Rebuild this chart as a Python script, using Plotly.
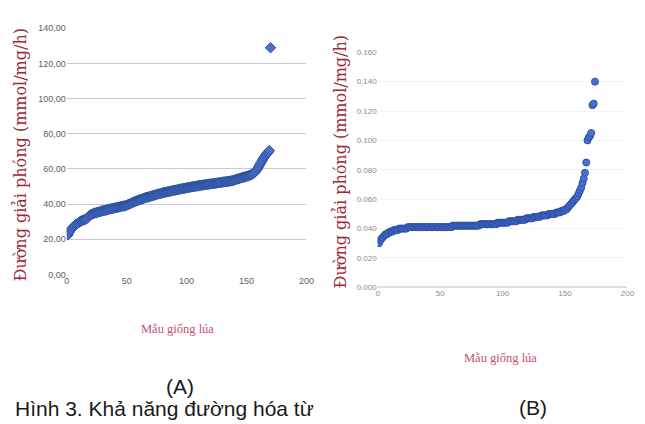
import plotly.graph_objects as go

# ---------------- data ----------------
# Chart A: released sugar (mmol/mg/h) for each rice sample, sorted ascending
sample_a = list(range(1, 171))
sugar_a = [
    22.5, 24.0, 25.2, 26.0, 26.8, 27.5, 28.1, 28.6, 29.0, 29.5,
    30.0, 30.4, 30.7, 31.0, 31.2, 31.5, 32.0, 32.8, 33.5, 34.0,
    34.3, 34.6, 34.8, 35.0, 35.2, 35.4, 35.6, 35.8, 36.0, 36.2,
    36.3, 36.5, 36.7, 36.9, 37.0, 37.2, 37.4, 37.5, 37.7, 37.8,
    38.0, 38.1, 38.3, 38.4, 38.6, 38.7, 38.9, 39.0, 39.2, 39.4,
    39.7, 40.0, 40.3, 40.6, 40.9, 41.2, 41.5, 41.8, 42.0, 42.3,
    42.5, 42.8, 43.0, 43.2, 43.5, 43.7, 43.9, 44.1, 44.3, 44.5,
    44.7, 44.9, 45.1, 45.3, 45.5, 45.7, 45.9, 46.0, 46.2, 46.4,
    46.6, 46.7, 46.9, 47.0, 47.2, 47.3, 47.5, 47.6, 47.8, 47.9,
    48.0, 48.2, 48.3, 48.5, 48.6, 48.7, 48.9, 49.0, 49.1, 49.3,
    49.4, 49.5, 49.6, 49.8, 49.9, 50.0, 50.1, 50.2, 50.4, 50.5,
    50.6, 50.7, 50.8, 50.9, 51.0, 51.1, 51.2, 51.3, 51.4, 51.5,
    51.6, 51.7, 51.8, 51.9, 52.0, 52.1, 52.2, 52.3, 52.4, 52.5,
    52.6, 52.7, 52.8, 52.9, 53.0, 53.1, 53.2, 53.4, 53.5, 53.7,
    54.0, 54.2, 54.4, 54.6, 54.8, 55.0, 55.2, 55.4, 55.6, 55.8,
    56.0, 56.2, 56.5, 56.8, 57.2, 57.6, 58.2, 59.0, 60.0, 61.2,
    62.4, 63.6, 64.8, 66.0, 67.0, 68.0, 68.8, 69.5, 70.5, 129.0,
]

# Chart B: released sugar (mmol/mg/h), sorted ascending
sample_b = list(range(1, 175))
sugar_b = [
    0.030, 0.032, 0.033, 0.034, 0.035, 0.036, 0.036, 0.037, 0.037, 0.038,
    0.038, 0.038, 0.039, 0.039, 0.039, 0.039, 0.040, 0.040, 0.040, 0.040,
    0.040, 0.040, 0.040, 0.041, 0.041, 0.041, 0.041, 0.041, 0.041, 0.041,
    0.041, 0.041, 0.041, 0.041, 0.041, 0.041, 0.041, 0.041, 0.041, 0.041,
    0.041, 0.041, 0.041, 0.041, 0.041, 0.041, 0.041, 0.041, 0.041, 0.041,
    0.041, 0.041, 0.041, 0.041, 0.041, 0.041, 0.041, 0.041, 0.041, 0.042,
    0.042, 0.042, 0.042, 0.042, 0.042, 0.042, 0.042, 0.042, 0.042, 0.042,
    0.042, 0.042, 0.042, 0.042, 0.042, 0.042, 0.042, 0.042, 0.042, 0.042,
    0.042, 0.043, 0.043, 0.043, 0.043, 0.043, 0.043, 0.043, 0.043, 0.043,
    0.043, 0.043, 0.043, 0.043, 0.043, 0.044, 0.044, 0.044, 0.044, 0.044,
    0.044, 0.044, 0.044, 0.044, 0.045, 0.045, 0.045, 0.045, 0.045, 0.045,
    0.045, 0.046, 0.046, 0.046, 0.046, 0.046, 0.046, 0.046, 0.047, 0.047,
    0.047, 0.047, 0.047, 0.047, 0.048, 0.048, 0.048, 0.048, 0.048, 0.048,
    0.049, 0.049, 0.049, 0.049, 0.049, 0.049, 0.050, 0.050, 0.050, 0.050,
    0.050, 0.050, 0.051, 0.051, 0.051, 0.051, 0.052, 0.052, 0.052, 0.053,
    0.053, 0.054, 0.055, 0.056, 0.057, 0.058, 0.059, 0.060, 0.061, 0.062,
    0.064, 0.066, 0.068, 0.071, 0.074, 0.078, 0.085, 0.100, 0.102, 0.103,
    0.105, 0.124, 0.125, 0.140,
]

x_ticks = [0, 50, 100, 150, 200]
x_ticktext = ["0", "50", "100", "150", "200"]
ya_ticks = [0, 20, 40, 60, 80, 100, 120, 140]
ya_ticktext = ["0,00", "20,00", "40,00", "60,00", "80,00", "100,00", "120,00", "140,00"]
yb_ticks = [0, 0.02, 0.04, 0.06, 0.08, 0.10, 0.12, 0.14, 0.16]
yb_ticktext = ["0.000", "0.020", "0.040", "0.060", "0.080", "0.100", "0.120", "0.140", "0.160"]

y_title = "Đường giải phóng (mmol/mg/h)"
x_title = "Mẫu giống lúa"
caption = "Hình 3. Khả năng đường hóa từ"

# ---------------- figure ----------------
W, H = 645, 424
# the captured page shows the figure slightly shrunk and offset; compensate
SCALE, OFF_X, OFF_Y = 0.98, 12.4, 12.6

def px_x(p):
    return ((p - OFF_X) / SCALE) / W

def px_y(p):
    return 1 - ((p - OFF_Y) / SCALE) / H

fig = go.Figure()

fig.add_trace(go.Scatter(
    x=sample_a, y=sugar_a, mode="markers", xaxis="x", yaxis="y",
    marker=dict(symbol="diamond", size=8, color="#4a72c8",
                line=dict(color="#2d4f9e", width=1)),
    showlegend=False, hoverinfo="x+y",
))
fig.add_trace(go.Scatter(
    x=sample_b, y=sugar_b, mode="markers", xaxis="x2", yaxis="y2",
    marker=dict(symbol="circle", size=7, color="#4a70d2",
                line=dict(color="#2d50a8", width=1)),
    showlegend=False, hoverinfo="x+y",
))

tick_font_a = dict(family="Liberation Sans Narrow, Liberation Sans, Arial", size=9, color="#606060")
tick_font_b = dict(family="Liberation Sans Narrow, Liberation Sans, Arial", size=8, color="#8a8a8a")

fig.update_layout(
    width=W, height=H,
    margin=dict(l=0, r=0, t=0, b=0),
    paper_bgcolor="white", plot_bgcolor="white",
    xaxis=dict(domain=[px_x(68), px_x(307)], range=[0, 200], tickvals=x_ticks, ticktext=x_ticktext,
               showgrid=False, zeroline=False, showline=False, ticks="", tickfont=tick_font_a,
               anchor="y"),
    yaxis=dict(domain=[px_y(275), px_y(28)], range=[0, 140], tickvals=ya_ticks, ticktext=ya_ticktext,
               showgrid=True, gridcolor="#c9c9d4", gridwidth=1, zeroline=False, showline=False,
               ticks="", tickfont=tick_font_a, anchor="x"),
    xaxis2=dict(domain=[px_x(378), px_x(627)], range=[0, 200], tickvals=x_ticks, ticktext=x_ticktext,
                showgrid=False, zeroline=False, showline=False, ticks="", tickfont=tick_font_b,
                anchor="y2"),
    yaxis2=dict(domain=[px_y(288), px_y(52)], range=[0, 0.16], tickvals=yb_ticks, ticktext=yb_ticktext,
                showgrid=True, gridcolor="#f4f4f6", gridwidth=1, zeroline=True, zerolinecolor="#dedee6",
                showline=False, ticks="", tickfont=tick_font_b, anchor="x2"),
)

serif_wide = "DejaVu Serif, Liberation Serif, serif"
serif = "Liberation Serif, Times New Roman, serif"
sans = "Liberation Sans, Arial, sans-serif"
annotations = [
    dict(text=y_title, x=px_x(22), y=px_y(155), textangle=-90,
         font=dict(family=serif_wide, size=16, color="#9a2a36")),
    dict(text=y_title, x=px_x(341), y=px_y(162), textangle=-90,
         font=dict(family=serif_wide, size=16, color="#9a2a36")),
    dict(text=x_title, x=px_x(178), y=px_y(330),
         font=dict(family=serif, size=12.5, color="#c4506a")),
    dict(text=x_title, x=px_x(500), y=px_y(359),
         font=dict(family=serif, size=12.5, color="#c4506a")),
    dict(text="(A)", x=px_x(181), y=px_y(387),
         font=dict(family=sans, size=21, color="#1a1a1a")),
    dict(text="(B)", x=px_x(533), y=px_y(409),
         font=dict(family=sans, size=21, color="#1a1a1a")),
    dict(text=caption, x=px_x(14), y=px_y(410), xanchor="left",
         font=dict(family=sans, size=21, color="#1a1a1a")),
]
for a in annotations:
    a.setdefault("xanchor", "center")
    a.update(xref="paper", yref="paper", yanchor="middle", showarrow=False)
fig.update_layout(annotations=annotations)

fig.write_html("out.html")
